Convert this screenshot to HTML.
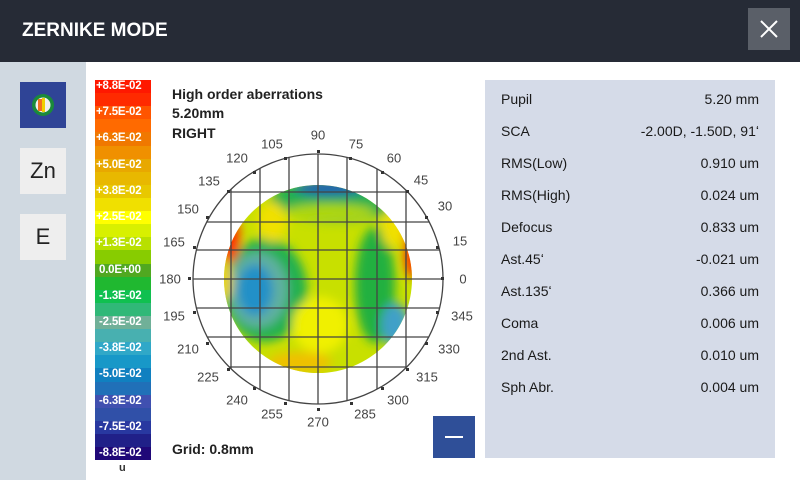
<!DOCTYPE html>
<html><head><meta charset="utf-8"><style>
*{margin:0;padding:0;box-sizing:border-box}
body{width:800px;height:480px;overflow:hidden;background:#fff;font-family:"Liberation Sans",sans-serif;position:relative}
.hdr{position:absolute;left:0;top:0;width:800px;height:62px;background:#262b36}
.hdr .t{position:absolute;left:22px;top:20px;color:#fff;font-size:19px;font-weight:bold}
.x{position:absolute;left:748px;top:8px;width:42px;height:42px;background:#5a5f68}
.side{position:absolute;left:0;top:62px;width:86px;height:418px;background:#d0d9e1}
.btn{position:absolute;left:20px;width:46px;height:46px;background:#eeeeee;color:#222;font-size:22px;text-align:center;line-height:46px}
.cb{position:absolute;left:95px;top:80px;width:56px;height:380px;display:flex;flex-direction:column;overflow:hidden}
.cb div{flex:1;height:0;color:#fff;font-size:11.5px;font-weight:bold;line-height:13px;text-align:left;padding-left:1px;white-space:nowrap;overflow:hidden;letter-spacing:-0.2px}
.panel{position:absolute;left:485px;top:80px;width:290px;height:378px;background:#d5dbe8}
.row{position:absolute;left:16px;right:16px;font-size:14px;color:#1a1a1a}
.row span{position:absolute;right:0;top:0}
.lbl{position:absolute;font-size:14px;font-weight:bold;color:#222}
.minus{position:absolute;left:433px;top:416px;width:42px;height:42px;background:#2f4f98}
.minus div{position:absolute;left:12px;top:20px;width:18px;height:2px;background:#fff}
</style></head><body>
<div class="hdr"><div class="t">ZERNIKE MODE</div>
<div class="x"><svg width="42" height="42"><path d="M13 13L29 29M29 13L13 29" stroke="#fff" stroke-width="2"/></svg></div></div>
<div class="side">
<div class="btn" style="top:20px;background:#2f4496"><svg width="46" height="46"><circle cx="23" cy="23" r="11" fill="#1a8a3a"/><circle cx="23" cy="23" r="7.5" fill="#f0f0f0"/><rect x="18" y="17" width="4" height="12" fill="#f07020"/><rect x="22" y="16" width="3" height="14" fill="#f0d000"/></svg></div>
<div class="btn" style="top:86px">Zn</div>
<div class="btn" style="top:152px">E</div>
</div>
<div class="cb">
<div style="background:#ff1800">+8.8E-02</div><div style="background:#ff2a00"></div>
<div style="background:#ff5500">+7.5E-02</div><div style="background:#ff6a00"></div>
<div style="background:#f07800">+6.3E-02</div><div style="background:#f09000"></div>
<div style="background:#e8a800">+5.0E-02</div><div style="background:#e8b800"></div>
<div style="background:#e8c800">+3.8E-02</div><div style="background:#f0e000"></div>
<div style="background:#ffff00">+2.5E-02</div><div style="background:#d8f000"></div>
<div style="background:#b8e000">+1.3E-02</div><div style="background:#88cc00"></div>
<div style="background:#50a820">&nbsp;0.0E+00</div><div style="background:#20b830"></div>
<div style="background:#10c050">&nbsp;-1.3E-02</div><div style="background:#30b878"></div>
<div style="background:#70b098">&nbsp;-2.5E-02</div><div style="background:#48b0b0"></div>
<div style="background:#30a8c8">&nbsp;-3.8E-02</div><div style="background:#1898c8"></div>
<div style="background:#1080c0">&nbsp;-5.0E-02</div><div style="background:#2070b8"></div>
<div style="background:#4050b0">&nbsp;-6.3E-02</div><div style="background:#3050a8"></div>
<div style="background:#2838a0">&nbsp;-7.5E-02</div><div style="background:#202088"></div>
<div style="background:#200878">&nbsp;-8.8E-02</div>
</div>
<div style="position:absolute;left:119px;top:462px;font-size:11px;font-weight:bold;color:#333">u</div>
<div class="lbl" style="left:172px;top:86px">High order aberrations</div>
<div class="lbl" style="left:172px;top:105px">5.20mm</div>
<div class="lbl" style="left:172px;top:125px">RIGHT</div>
<div class="lbl" style="left:172px;top:441px">Grid: 0.8mm</div>
<svg style="position:absolute;left:0;top:0" width="800" height="480">
<defs><clipPath id="c"><circle cx="318" cy="279" r="94"/></clipPath>
<clipPath id="o"><circle cx="318" cy="279" r="125"/></clipPath>
<filter id="b" x="-50%" y="-50%" width="200%" height="200%"><feGaussianBlur stdDeviation="5"/></filter></defs>
<g clip-path="url(#c)">
<rect x="220" y="180" width="200" height="200" fill="#c8e000"/>
<g filter="url(#b)">
<ellipse cx="335" cy="200" rx="65" ry="22" fill="#20b050"/>
<ellipse cx="330" cy="212" rx="45" ry="8" fill="#b0d800"/>
<ellipse cx="330" cy="188" rx="35" ry="8" fill="#2060b0"/>
<ellipse cx="265" cy="290" rx="42" ry="52" fill="#20b050"/>
<ellipse cx="258" cy="290" rx="30" ry="38" fill="#60b0a0"/>
<ellipse cx="255" cy="290" rx="18" ry="26" fill="#2090c8"/>
<ellipse cx="375" cy="285" rx="20" ry="58" fill="#20b040"/>
<ellipse cx="395" cy="325" rx="14" ry="22" fill="#40a0c8"/>
<ellipse cx="320" cy="325" rx="28" ry="28" fill="#f0f000"/>
<ellipse cx="300" cy="362" rx="32" ry="10" fill="#f0c000"/>
<ellipse cx="230" cy="238" rx="10" ry="25" fill="#ff3000"/>
<ellipse cx="412" cy="250" rx="8" ry="28" fill="#ff3000"/>
<ellipse cx="272" cy="222" rx="15" ry="20" fill="#f0e000"/>
<ellipse cx="393" cy="228" rx="12" ry="20" fill="#f0e000"/>
<ellipse cx="226" cy="280" rx="6" ry="20" fill="#f0d000"/>
</g></g>
<g clip-path="url(#o)" stroke="#444" stroke-width="1.3">
<path d="M231 150V410M260 150V410M289 150V410M318 150V410M347 150V410M377 150V410M406 150V410M190 192H450M190 222H450M190 250H450M190 279H450M190 308H450M190 337H450M190 367H450"/>
</g>
<circle cx="318" cy="279" r="125" fill="none" stroke="#444" stroke-width="1.3"/>
<g font-size="13" fill="#444" text-anchor="middle" dominant-baseline="central" font-family="Liberation Sans,sans-serif">
<text x="463" y="279">0</text><text x="460" y="241">15</text><text x="445" y="206">30</text><text x="421" y="180">45</text><text x="394" y="158">60</text><text x="356" y="144">75</text><text x="318" y="135">90</text><text x="272" y="144">105</text><text x="237" y="158">120</text><text x="209" y="181">135</text><text x="188" y="209">150</text><text x="174" y="242">165</text><text x="170" y="279">180</text><text x="174" y="316">195</text><text x="188" y="349">210</text><text x="208" y="377">225</text><text x="237" y="400">240</text><text x="272" y="414">255</text><text x="318" y="422">270</text><text x="365" y="414">285</text><text x="398" y="400">300</text><text x="427" y="377">315</text><text x="449" y="349">330</text><text x="462" y="316">345</text>
</g>
<g fill="#333">
<rect x="441" y="277" width="3" height="3"/><rect x="436" y="246" width="3" height="3"/><rect x="425" y="216" width="3" height="3"/><rect x="406" y="190" width="3" height="3"/><rect x="381" y="171" width="3" height="3"/><rect x="349" y="157" width="3" height="3"/><rect x="317" y="150" width="3" height="3"/><rect x="284" y="157" width="3" height="3"/><rect x="253" y="171" width="3" height="3"/><rect x="227" y="190" width="3" height="3"/><rect x="206" y="216" width="3" height="3"/><rect x="193" y="246" width="3" height="3"/><rect x="188" y="277" width="3" height="3"/><rect x="193" y="311" width="3" height="3"/><rect x="206" y="342" width="3" height="3"/><rect x="227" y="368" width="3" height="3"/><rect x="253" y="387" width="3" height="3"/><rect x="284" y="402" width="3" height="3"/><rect x="317" y="408" width="3" height="3"/><rect x="350" y="402" width="3" height="3"/><rect x="381" y="387" width="3" height="3"/><rect x="406" y="368" width="3" height="3"/><rect x="425" y="342" width="3" height="3"/><rect x="436" y="311" width="3" height="3"/>
</g>
</svg>
<div class="minus"><div></div></div>
<div class="panel">
<div class="row" style="top:11px">Pupil<span>5.20 mm</span></div>
<div class="row" style="top:43px">SCA<span>-2.00D, -1.50D, 91ʻ</span></div>
<div class="row" style="top:75px">RMS(Low)<span>0.910 um</span></div>
<div class="row" style="top:107px">RMS(High)<span>0.024 um</span></div>
<div class="row" style="top:139px">Defocus<span>0.833 um</span></div>
<div class="row" style="top:171px">Ast.45ʻ<span>-0.021 um</span></div>
<div class="row" style="top:203px">Ast.135ʻ<span>0.366 um</span></div>
<div class="row" style="top:235px">Coma<span>0.006 um</span></div>
<div class="row" style="top:267px">2nd Ast.<span>0.010 um</span></div>
<div class="row" style="top:299px">Sph Abr.<span>0.004 um</span></div>
</div>
</body></html>
